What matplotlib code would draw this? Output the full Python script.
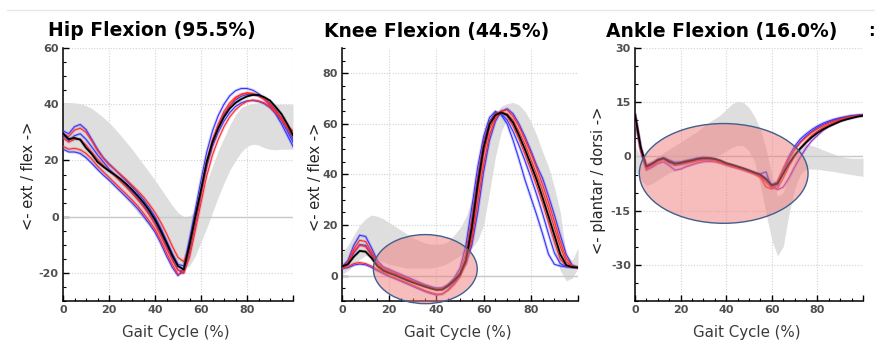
import numpy as np
import matplotlib
matplotlib.use("Agg")
import matplotlib.pyplot as plt
from matplotlib.patches import Ellipse
from matplotlib.lines import Line2D
import matplotlib.patheffects as pe

plt.rcParams["axes.unicode_minus"] = False

# gait cycle sampled every 2.5 %
gait = np.arange(0, 100.1, 2.5)

# ---- hip flexion (deg) ----
hip_band_lo = [24, 23.5, 23, 22, 20.5, 18.5, 16.5, 14.5, 12.5, 10.5, 8.5, 6.2, 4, 1.5, -1, -3.5,
               -6, -9, -12, -15, -17.5, -18.5, -17.5, -14, -9, -4, 1.5, 7, 12, 16.5, 20, 23,
               25, 25.8, 25.5, 24.5, 24, 23.8, 24, 24, 24]
hip_band_hi = [40.5, 40.6, 40.5, 40.2, 39.5, 38.5, 37, 35.3, 33.5, 31.3, 29, 26.5, 24, 21.3,
               18.5, 15.8, 13, 10, 7, 4, 1.5, 0, 0.2, 2, 6.5, 12.5, 18, 23.5, 28, 32.5, 36.3,
               38.8, 39.8, 40.3, 40.5, 40.3, 40.1, 40, 40, 40, 40]
hip_mean = [29.6, 27.6, 28.0, 27.4, 24.5, 22.3, 19.5, 17.8, 16.3, 14.9, 13.4, 11.6, 9.6, 7.4,
            5.0, 2.2, -1.0, -5.0, -9.3, -13.8, -17.6, -18.8, -10.0, 0.0, 9.5, 19.5, 26.5, 31.5,
            35.5, 38.5, 40.5, 41.8, 42.8, 43.3, 43.3, 42.5, 41.3, 39.0, 36.5, 33.0, 29.0]
hip_trials = {
    "blue": [
        [30.5, 29.5, 32.0, 32.8, 31.0, 27.5, 24.0, 21.0, 18.8, 16.8, 14.8, 12.8, 10.7, 8.5, 6.0,
         3.2, 0.0, -4.0, -8.5, -13.0, -17.0, -17.5, -8.0, 2.5, 13.0, 23.0, 30.5, 36.0, 40.0,
         43.0, 44.8, 45.6, 45.6, 45.0, 43.8, 42.0, 39.5, 36.5, 33.0, 29.0, 25.0],
        [29.0, 27.0, 28.8, 29.5, 27.5, 24.8, 22.0, 19.5, 17.0, 15.0, 13.0, 11.0, 8.8, 6.5, 4.0,
         1.2, -2.0, -6.0, -10.5, -15.0, -19.0, -20.0, -12.5, -2.5, 8.0, 18.5, 26.0, 32.0, 36.5,
         39.5, 41.5, 42.8, 43.5, 43.5, 43.0, 42.0, 40.3, 38.0, 35.0, 31.5, 27.5],
        [24.0, 23.0, 23.0, 22.5, 21.0, 19.0, 16.8, 14.8, 13.0, 11.0, 9.0, 7.0, 5.0, 2.8, 0.2,
         -2.5, -5.5, -9.5, -14.0, -18.0, -21.0, -18.5, -11.0, -1.0, 9.0, 18.0, 25.0, 30.0, 34.0,
         37.0, 39.2, 40.5, 41.2, 41.3, 41.0, 40.2, 38.8, 36.8, 34.2, 30.5, 26.5],
    ],
    "red": [
        [29.5, 28.5, 30.8, 31.5, 30.0, 27.0, 23.5, 20.8, 18.5, 16.8, 15.0, 13.2, 11.2, 9.2, 7.0,
         4.4, 1.5, -2.0, -6.0, -10.5, -14.5, -16.0, -11.0, -1.0, 9.0, 19.5, 27.5, 33.0, 37.5,
         40.5, 42.5, 43.5, 44.0, 43.8, 43.0, 41.8, 40.0, 37.5, 35.0, 32.5, 30.5],
        [25.0, 24.0, 24.3, 23.8, 22.5, 20.5, 18.0, 16.0, 14.0, 12.0, 10.0, 8.0, 6.0, 3.8, 1.2,
         -1.5, -4.5, -8.5, -12.8, -17.0, -20.5, -20.0, -14.5, -5.0, 5.0, 14.5, 22.0, 27.5, 32.0,
         35.5, 38.0, 39.8, 41.0, 41.5, 41.2, 40.5, 39.0, 37.0, 34.8, 32.0, 29.0],
        [28.0, 26.5, 27.5, 27.5, 25.5, 23.0, 20.5, 18.3, 16.3, 14.5, 12.5, 10.5, 8.3, 6.0, 3.5,
         0.6, -2.8, -6.8, -11.2, -15.5, -19.0, -19.3, -11.5, -1.5, 8.5, 18.5, 26.0, 31.5, 36.0,
         39.5, 42.0, 43.5, 44.0, 43.8, 43.0, 41.8, 40.0, 37.5, 34.5, 31.5, 28.5],
    ],
}

# ---- knee flexion (deg) ----
knee_band_lo = [0.5, 2, 4, 6.5, 8, 7.5, 6.5, 5.5, 4.5, 4, 3.5, 3, 3, 3, 3, 3, 3.5, 4, 5, 6.5,
                8, 9.5, 11, 14, 20, 33, 47, 57, 62, 62, 58, 52, 45, 37, 28, 19, 10, 2, -2, -1, 3]
knee_band_hi = [9, 12, 16, 20, 22.5, 24, 23.5, 22.5, 21, 19.5, 18, 16.5, 15, 14, 13, 12.5, 12.5,
                12.5, 13.5, 16, 19, 23, 30, 40, 50, 58, 64, 67, 68, 68.5, 67.5, 65, 61, 55.5,
                49, 43, 35, 25, 8, 6, 11]
knee_mean = [3.7, 4.5, 7.5, 9.8, 9.5, 7.0, 3.8, 2.0, 1.0, 0.2, -0.8, -1.8, -2.7, -3.5, -4.3,
             -5.0, -5.6, -5.5, -4.0, -2.0, 0.5, 6.0, 19.0, 36.0, 50.5, 59.8, 63.5, 64.5, 63.5,
             60.5, 55.5, 50.0, 44.0, 37.8, 30.8, 23.5, 16.0, 8.5, 4.2, 3.4, 3.2]
knee_trials = {
    "blue": [
        [3.5, 6, 12, 16, 15.5, 11, 6, 3.5, 2.5, 1.5, 0.5, -0.5, -1.5, -2.5, -3.5, -4.3, -5, -5,
         -3.5, -1, 3, 12, 27, 43, 55, 62.5, 65, 63.5, 60, 53.5, 46, 38, 31, 24, 16.5, 8.5, 4.5,
         3.8, 3.5, 3.3, 3.2],
        [3.0, 4.5, 9, 12.3, 12, 8.5, 4.5, 2.5, 1.5, 0.8, -0.3, -1.3, -2.2, -3, -3.8, -4.5, -5,
         -4.8, -3.5, -1.5, 1, 4.5, 12, 25, 41, 53.5, 61, 65, 66, 64, 60, 55, 49.5, 43.5, 38.5,
         31.5, 24, 16, 8.5, 4.2, 3.3],
        [2.8, 3.2, 4.2, 4.6, 4.3, 3.3, 2, 0.8, -0.3, -1.2, -2.2, -3.2, -4.2, -5.2, -6.2, -7,
         -7.6, -7.3, -5.5, -3, 0, 7, 22, 39, 53, 61, 64.5, 64, 61.5, 57, 51.5, 45.5, 39, 32,
         24.5, 16.5, 9, 4.8, 3.6, 3.3, 3.2],
    ],
    "red": [
        [3.2, 5, 10.5, 14, 13.5, 9.5, 5, 3, 2, 1, 0, -1, -2, -3, -4, -4.8, -5.5, -5.5, -4.2, -2,
         1.5, 9, 22, 38, 52, 60.5, 64, 65, 63, 59, 54, 48, 42, 35.5, 28.5, 21, 13.5, 6.5, 4,
         3.4, 3.3],
        [3.0, 3.5, 4.8, 5.2, 4.8, 3.8, 2.5, 1.2, 0, -0.8, -1.8, -2.8, -3.8, -4.8, -5.8, -6.6,
         -7.3, -7.2, -5.8, -3.5, -0.5, 5, 16, 33, 48, 58, 63, 64.5, 64, 61.5, 57, 52, 46, 40,
         33.5, 26.5, 19, 11.5, 5.5, 3.6, 3.3],
        [3.3, 4.8, 9.5, 12, 11.5, 8, 4.2, 2.3, 1.3, 0.5, -0.5, -1.5, -2.4, -3.3, -4.1, -4.8,
         -5.3, -5, -3.8, -1.8, 0.8, 5, 14, 29, 44, 55.5, 62, 65, 65.5, 63, 59, 54, 48.5, 42.5,
         36, 29, 21.5, 13.5, 7, 3.8, 3.3],
    ],
}

# ---- ankle flexion (deg) ----
ankle_band_lo = [-4, -6.5, -8, -7.5, -6.5, -5.5, -4.5, -4, -3.5, -3, -2.5, -2, -1.5, -1, 0, 0.5,
                 1.5, 2.5, 3, 3, 1.5, -1.5, -8, -16, -23, -27.5, -25, -16, -9, -5, -3.5, -3.5,
                 -3.5, -3.8, -4, -4.2, -4.5, -4.8, -5, -5.3, -5.5]
ankle_band_hi = [3, 0, -1.5, -1, 0, 1, 2, 3, 4, 5, 6, 7, 8.3, 9.5, 10.5, 11.5, 13, 14.5, 15.3,
                 15, 13.5, 11, 7.5, 2, -5, -11, -10, -5, -1, 2.5, 3.5, 3, 2.5, 1.8, 1.2, 0.6, 0,
                 -0.3, -0.5, -0.5, -0.5]
ankle_mean = [11.6, 2.5, -2.8, -2.0, -1.0, -0.5, -1.4, -2.0, -1.8, -1.4, -1.1, -0.7, -0.5, -0.5,
              -0.7, -1.2, -1.9, -2.3, -2.8, -3.3, -3.9, -4.5, -5.1, -6.3, -8.0, -7.5, -4.8, -2.0,
              0.3, 2.2, 3.8, 5.3, 6.5, 7.5, 8.3, 9.0, 9.7, 10.2, 10.6, 11.0, 11.3]
ankle_trials = {
    "blue": [
        [11.5, 2.0, -3.2, -2.3, -1.2, -0.6, -1.6, -2.5, -2.2, -1.8, -1.4, -1.0, -0.8, -0.7, -0.9,
         -1.4, -2.0, -2.5, -3.0, -3.5, -4.0, -4.5, -4.8, -4.3, -8.8, -8.0, -4.0, -0.8, 2.0, 4.0,
         5.6, 6.9, 8.0, 8.8, 9.5, 10.1, 10.5, 10.9, 11.2, 11.4, 11.5],
        [11.6, 2.8, -2.5, -1.8, -0.8, -0.3, -1.0, -1.6, -1.5, -1.1, -0.8, -0.4, -0.2, -0.3, -0.6,
         -1.1, -1.8, -2.3, -2.8, -3.3, -3.8, -4.4, -5.0, -6.0, -7.8, -7.0, -3.5, 0.0, 2.8, 4.8,
         6.2, 7.4, 8.4, 9.2, 9.8, 10.3, 10.7, 11.0, 11.3, 11.4, 11.5],
    ],
    "purple": [
        [11.0, 1.5, -3.8, -3.0, -2.0, -1.5, -2.5, -3.8, -3.5, -2.8, -2.3, -1.8, -1.5, -1.4, -1.5,
         -1.9, -2.4, -2.9, -3.3, -3.8, -4.3, -4.9, -5.6, -6.5, -8.2, -9.2, -8.5, -6.0, -3.0,
         -0.2, 2.3, 4.3, 5.8, 7.2, 8.3, 9.2, 9.9, 10.4, 10.8, 11.1, 11.3],
    ],
    "red": [
        [11.2, 1.8, -3.5, -2.5, -1.5, -0.8, -1.8, -2.3, -2.0, -1.7, -1.4, -1.0, -0.8, -0.8, -1.0,
         -1.5, -2.1, -2.6, -3.1, -3.6, -4.2, -4.8, -5.8, -8.5, -9.0, -7.0, -3.5, -0.5, 1.8, 3.8,
         5.3, 6.6, 7.6, 8.5, 9.2, 9.8, 10.3, 10.7, 11.0, 11.2, 11.3],
        [11.3, 2.2, -3.0, -2.2, -1.2, -0.7, -1.6, -2.2, -2.2, -1.9, -1.6, -1.2, -1.0, -1.0, -1.2,
         -1.7, -2.3, -2.8, -3.2, -3.7, -4.3, -4.9, -5.8, -7.2, -8.8, -8.8, -6.0, -2.8, 0.0, 2.3,
         4.2, 5.8, 7.0, 8.0, 8.8, 9.5, 10.1, 10.6, 10.9, 11.2, 11.3],
    ],
}

titles = ["Hip Flexion (95.5%)", "Knee Flexion (44.5%)", "Ankle Flexion (16.0%)"]
ylabels = ["<- ext / flex ->", "<- ext / flex ->", "<- plantar / dorsi ->"]

colors = {"blue": "#3535ff", "red": "#ff2b2b", "purple": "#9a2fd0"}

fig = plt.figure(figsize=(8.75, 3.42), dpi=100)
fig.patch.set_facecolor("white")

# thin separator along the top
fig.add_artist(Line2D([7 / 875, 1], [1 - 10 / 342] * 2, color="#e8e8e8", lw=1))

panels = [
    dict(rect=[63, 230], ylim=(-30, 60), yticks=[-20, 0, 20, 40, 60],
         lo=hip_band_lo, hi=hip_band_hi, mean=hip_mean, trials=hip_trials,
         title_x=152, ylab_x=-0.148, ylab_y=0.494, ellipse=None),
    dict(rect=[342, 236], ylim=(-10, 90), yticks=[0, 20, 40, 60, 80],
         lo=knee_band_lo, hi=knee_band_hi, mean=knee_mean, trials=knee_trials,
         title_x=437, ylab_x=-0.114, ylab_y=0.49, ellipse=(35.3, 2.6, 44, 27.3)),
    dict(rect=[635, 228], ylim=(-40, 30), yticks=[-30, -15, 0, 15, 30],
         lo=ankle_band_lo, hi=ankle_band_hi, mean=ankle_mean, trials=ankle_trials,
         title_x=722, ylab_x=-0.158, ylab_y=0.478, ellipse=(38.9, -4.7, 74, 27.6)),
]

for i, p in enumerate(panels):
    left, width = p["rect"]
    ax = fig.add_axes([left / 875, 41 / 342, width / 875, 253 / 342])
    ax.set_xlim(0, 100)
    ax.set_ylim(*p["ylim"])

    ax.fill_between(gait, p["lo"], p["hi"], color="#dedede", lw=0, zorder=1)
    ax.axhline(0, color="#c8c8c8", lw=1, zorder=1.5)

    for cname, curves in p["trials"].items():
        c = colors[cname]
        for vals in curves:
            ax.plot(gait, vals, color=c, lw=0.8, zorder=3,
                    path_effects=[pe.Stroke(linewidth=2.2, foreground=c, alpha=0.22), pe.Normal()])
    ax.plot(gait, p["mean"], color="black", lw=1.3, zorder=4,
            path_effects=[pe.Stroke(linewidth=2.4, foreground="#555555", alpha=0.25), pe.Normal()])

    if p["ellipse"] is not None:
        cx, cy, w, h = p["ellipse"]
        ax.add_patch(Ellipse((cx, cy), w, h, facecolor="#f07a7a", alpha=0.5,
                             edgecolor="none", zorder=5, clip_on=False))
        ax.add_patch(Ellipse((cx, cy), w, h, facecolor="none", edgecolor="#3f5f8f",
                             lw=1, zorder=5.1, clip_on=False))

    ax.set_xticks([0, 20, 40, 60, 80, 100])
    ax.set_xticklabels(["0", "20", "40", "60", "80", ""])
    ax.set_xticks(np.arange(0, 101, 5), minor=True)
    ax.set_yticks(p["yticks"])
    ax.set_yticks(np.arange(p["ylim"][0], p["ylim"][1] + 0.1, 5), minor=True)
    ax.grid(True, which="major", color="#d2d2d2", ls=(0, (1, 1.5)), lw=0.8, zorder=0)
    ax.set_axisbelow(True)

    for side in ["top", "right"]:
        ax.spines[side].set_visible(False)
    for side in ["left", "bottom"]:
        ax.spines[side].set_color("black")
        ax.spines[side].set_linewidth(1.1)
    ax.tick_params(which="major", direction="in", length=4, width=1, color="black",
                   labelsize=8, labelcolor="#505050", pad=3)
    ax.tick_params(which="minor", direction="in", length=2.5, width=0.8, color="black")
    for lab in ax.get_xticklabels() + ax.get_yticklabels():
        lab.set_fontweight("bold")

    ax.text(0.49, -0.126, "Gait Cycle (%)", transform=ax.transAxes, ha="center",
            va="center", fontsize=10.8, color="#3a3a3a")
    ax.text(p["ylab_x"], p["ylab_y"], ylabels[i], transform=ax.transAxes, rotation=90,
            ha="center", va="center", fontsize=10.5, color="#262626")

    fig.text(p["title_x"] / 875, 1 - 31 / 342, titles[i], ha="center", va="center",
             fontsize=13.5, fontweight="bold", color="black")

fig.text(868 / 875, 1 - 31 / 342, ":", ha="left", va="center", fontsize=12,
         fontweight="bold", color="black")

fig.savefig("out.png", dpi=100, facecolor="white")
